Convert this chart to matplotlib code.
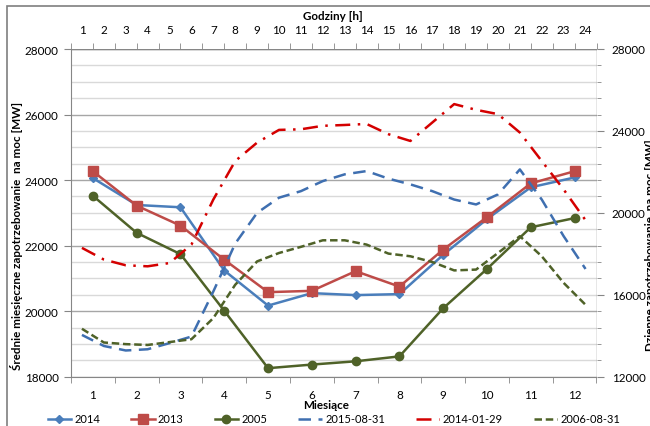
import matplotlib
matplotlib.use("Agg")
from matplotlib import pyplot as plt
from matplotlib.patches import Rectangle
from matplotlib.ticker import MultipleLocator

plt.rcParams['font.family'] = ['Lato', 'DejaVu Sans']

# monthly averages (left axis, bottom axis)
months = list(range(1, 13))
y2014 = [24060, 23240, 23170, 21240, 20170, 20550, 20490, 20520, 21720, 22810, 23780, 24080]
y2013 = [24270, 23220, 22610, 21570, 20580, 20620, 21220, 20750, 21880, 22870, 23900, 24270]
y2005 = [23520, 22390, 21740, 20010, 18260, 18370, 18470, 18620, 20090, 21290, 22560, 22840]

# daily profiles (right axis, top axis)
hours = list(range(1, 25))
d20150831 = [14040, 13500, 13280, 13340, 13640, 13960, 16160, 18500, 20000, 20740, 21060, 21550,
             21880, 22040, 21670, 21390, 21060, 20650, 20410, 20900, 22120, 20650, 18860, 17260]
d20140129 = [18290, 17720, 17440, 17390, 17550, 18450, 20650, 22530, 23430, 24050, 24080, 24250,
             24290, 24340, 23840, 23510, 24410, 25310, 25030, 24820, 23920, 22530, 21140, 19640]
d20060831 = [14340, 13670, 13590, 13550, 13690, 13830, 14860, 16490, 17630, 18040, 18340, 18660,
             18660, 18450, 18010, 17880, 17600, 17190, 17230, 18040, 18860, 17880, 16580, 15510]

W, H = 650, 427
fig = plt.figure(figsize=(6.5, 4.27), dpi=100)
pos = [71 / W, 1 - 377.7 / H, (596.5 - 71) / W, (377.7 - 50) / H]
ax = fig.add_axes(pos)
axh = fig.add_axes(pos, frameon=False)

grey = '#868686'
fs = 8.4

# monthly axis
ax.set_xlim(0.5, 12.5)
ax.set_ylim(18000, 28000)
ax.set_xticks(months)
ax.set_xticks([m + 0.5 for m in range(0, 13)], minor=True)
ax.tick_params(axis='x', which='major', length=0, labelsize=fs, pad=9)
ax.tick_params(axis='x', which='minor', length=4, color=grey, direction='out')
ax.yaxis.set_major_locator(MultipleLocator(2000))
ax.yaxis.set_minor_locator(MultipleLocator(500))
ax.tick_params(axis='y', which='major', length=5, color=grey, labelsize=fs, direction='out', pad=4)
ax.tick_params(axis='y', which='minor', length=0)
ax.grid(True, which='major', axis='y', color='#a6a6a6', lw=1)
ax.grid(True, which='minor', axis='y', color='#d9d9d9', lw=1)
ax.set_axisbelow(True)
for s in ['top', 'right']:
    ax.spines[s].set_visible(False)
for s in ['left', 'bottom']:
    ax.spines[s].set_color(grey)

l1, = ax.plot(months, y2014, color='#4a7ebb', lw=1.8, marker='D', ms=4, label='2014')
l2, = ax.plot(months, y2013, color='#be4b48', lw=1.8, marker='s', ms=7, label='2013')
l3, = ax.plot(months, y2005, color='#4f6228', lw=1.8, marker='o', ms=6, label='2005')

# hourly axis
axh.set_xlim(0.5, 24.5)
axh.set_ylim(12000, 28000)
axh.xaxis.tick_top()
axh.yaxis.tick_right()
axh.set_xticks(hours)
axh.set_xticks([h + 0.5 for h in range(0, 25)], minor=True)
axh.tick_params(axis='x', which='major', length=0, labelsize=fs, pad=10)
axh.tick_params(axis='x', which='minor', length=4, color=grey, direction='out')
axh.yaxis.set_major_locator(MultipleLocator(4000))
axh.yaxis.set_minor_locator(MultipleLocator(800))
axh.tick_params(axis='y', which='major', length=5, color=grey, labelsize=fs, direction='out', pad=6)
axh.tick_params(axis='y', which='minor', length=3, color=grey, direction='out')
axh.axvline(24.5, color=grey, lw=1)
axh.axhline(28000, color=grey, lw=1)

l4, = axh.plot(hours, d20150831, color='#3f6fb0', lw=1.8, ls=(0, (5, 3)), label='2015-08-31')
l5, = axh.plot(hours, d20140129, color='#d40000', lw=1.8, ls=(0, (6, 3, 1, 3)), label='2014-01-29')
l6, = axh.plot(hours, d20060831, color='#4f6228', lw=1.8, ls=(0, (3, 1.5)), label='2006-08-31')

# titles
fig.text(333 / W, 1 - 17 / H, 'Godziny [h]', ha='center', va='center', fontsize=fs, fontweight='bold')
fig.text(326 / W, 1 - 406 / H, 'Miesiące', ha='center', va='center', fontsize=fs, fontweight='bold')
fig.text(17 / W, 1 - 236 / H, 'Średnie miesięczne zapotrzebowanie  na moc [MW]', rotation=90,
         ha='center', va='center', fontsize=fs, fontweight='bold')
fig.text(651 / W, 1 - 245 / H, 'Dzienne zapotrzebowanie  na moc [MW]', rotation=90,
         ha='center', va='center', fontsize=fs, fontweight='bold')

fig.legend(handles=[l1, l2, l3, l4, l5, l6], loc='center', bbox_to_anchor=(334 / W, 1 - 420 / H),
           ncol=6, frameon=False, fontsize=8, handlelength=2.1, handletextpad=0.3,
           columnspacing=2.8, borderpad=0)

# chart border
fig.patches.append(Rectangle((7 / W, -0.05), 1.0, 1.05 - 7 / H, transform=fig.transFigure,
                             fill=False, edgecolor='#7f7f7f', lw=1.2))

fig.savefig('out.png', dpi=100)
